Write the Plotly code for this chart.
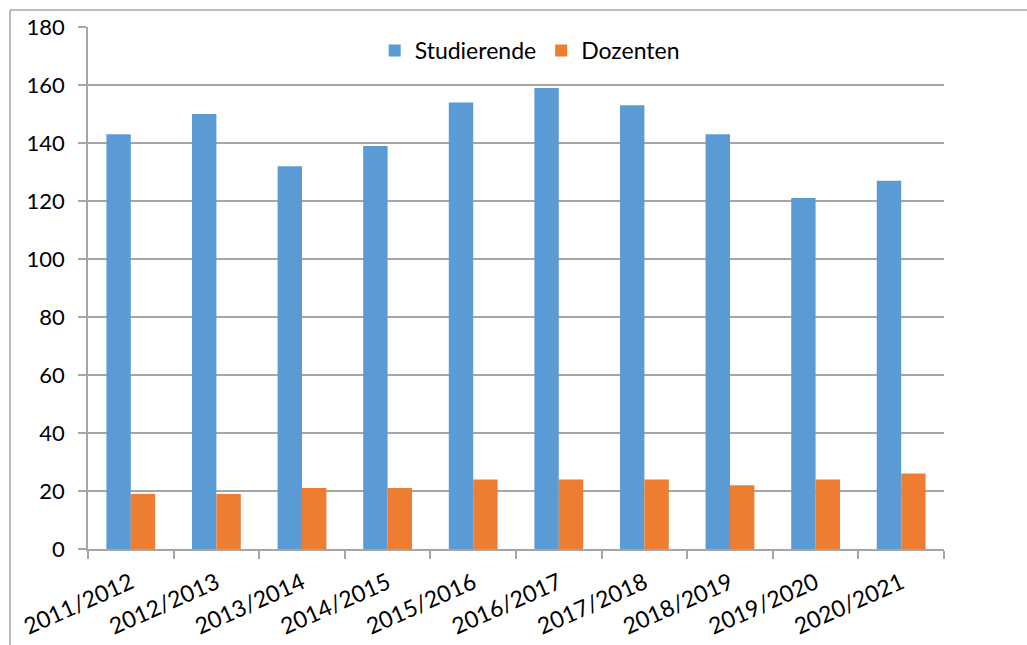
import plotly.graph_objects as go

categories = ["2011/2012", "2012/2013", "2013/2014", "2014/2015", "2015/2016",
              "2016/2017", "2017/2018", "2018/2019", "2019/2020", "2020/2021"]
studierende = [143, 150, 132, 139, 154, 159, 153, 143, 121, 127]
dozenten = [19, 19, 21, 21, 24, 24, 24, 22, 24, 26]
y_ticks = [0, 20, 40, 60, 80, 100, 120, 140, 160, 180]

W, H = 1027, 645
L, R, T, B = 88, 83, 27, 96
pw, ph = W - L - R, H - T - B

fig = go.Figure()
fig.add_trace(go.Bar(x=categories, y=studierende, name="Studierende",
                     marker=dict(color="#5b9bd5", line=dict(width=0))))
fig.add_trace(go.Bar(x=categories, y=dozenten, name="Dozenten",
                     marker=dict(color="#ed7d31", line=dict(width=0))))

gray = "#a6a6a6"
fig.update_layout(
    width=W, height=H,
    margin=dict(l=L, r=R, t=T, b=B, pad=0),
    paper_bgcolor="white", plot_bgcolor="white",
    barmode="group", bargap=0.43, bargroupgap=0,
    font=dict(family="Lato, Noto Sans, sans-serif", color="#000000"),
    legend=dict(orientation="h", x=0.516, xanchor="center", y=0.955, yanchor="middle",
                font=dict(size=23), bgcolor="rgba(0,0,0,0)", itemwidth=30,
                traceorder="normal"),
    xaxis=dict(type="category", tickangle=-24, tickfont=dict(size=23),
               showline=True, linecolor=gray, linewidth=1.5,
               ticks="outside", ticklen=8, tickcolor=gray, tickwidth=1.5,
               tickson="boundaries", showgrid=False, ticklabelstandoff=10,
               automargin=False),
    yaxis=dict(range=[0, 180], tickvals=y_ticks, tickfont=dict(size=22),
               showgrid=True, gridcolor=gray, gridwidth=1.5,
               showline=True, linecolor=gray, linewidth=1.5,
               ticks="outside", ticklen=8, tickcolor=gray, tickwidth=1.5,
               zeroline=False, automargin=False, ticklabelstandoff=9),
    shapes=[
        dict(type="line", xref="paper", yref="paper",
             x0=(10 - L) / pw, x1=(W + 5 - L) / pw,
             y0=1 + (T - 10) / ph, y1=1 + (T - 10) / ph,
             line=dict(color=gray, width=1.5)),
        dict(type="line", xref="paper", yref="paper",
             x0=(10 - L) / pw, x1=(10 - L) / pw,
             y0=1 + (T - 10) / ph, y1=-(B + 5) / ph,
             line=dict(color=gray, width=1.5)),
    ],
)

fig.write_html("out.html")
